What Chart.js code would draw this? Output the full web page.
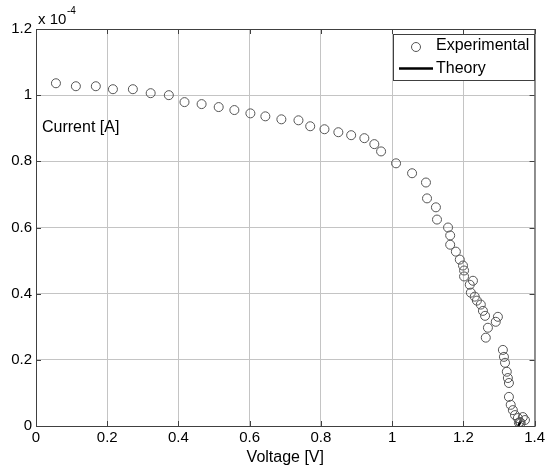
<!DOCTYPE html>
<html>
<head>
<meta charset="utf-8">
<script src="https://cdn.jsdelivr.net/npm/chart.js@4.4.1/dist/chart.umd.min.js"></script>
<style>
  html, body { margin: 0; padding: 0; background: #fff; }
  #wrap { position: relative; width: 548px; height: 469px; }
</style>
</head>
<body>
<div id="wrap"><canvas id="ivChart" width="548" height="469"></canvas></div>
<script>
// I-V curve, experimental points (current shown in units of 1e-4 A)
const voltage = [
  0.056, 0.112, 0.168, 0.216, 0.272, 0.322, 0.373, 0.417, 0.465, 0.513,
  0.557, 0.602, 0.644, 0.689, 0.737, 0.770, 0.810, 0.849, 0.885, 0.922,
  0.950, 0.969, 1.011, 1.056, 1.095, 1.098, 1.123, 1.126, 1.157, 1.163,
  1.163, 1.179, 1.190, 1.199, 1.202, 1.202, 1.227, 1.218, 1.221, 1.232,
  1.238, 1.249, 1.255, 1.261, 1.269, 1.263, 1.297, 1.291, 1.311, 1.314,
  1.317, 1.322, 1.325, 1.328, 1.328, 1.333, 1.339, 1.345, 1.353, 1.367,
  1.373, 1.359, 1.361, 1.356
];
const current = [
  1.036, 1.027, 1.027, 1.018, 1.018, 1.006, 1.000, 0.979, 0.973, 0.964,
  0.955, 0.945, 0.936, 0.927, 0.924, 0.906, 0.897, 0.888, 0.879, 0.870,
  0.852, 0.830, 0.794, 0.764, 0.736, 0.688, 0.661, 0.624, 0.600, 0.576,
  0.548, 0.527, 0.503, 0.485, 0.470, 0.452, 0.439, 0.427, 0.403, 0.391,
  0.379, 0.367, 0.348, 0.333, 0.297, 0.267, 0.330, 0.315, 0.230, 0.209,
  0.191, 0.164, 0.145, 0.130, 0.088, 0.064, 0.048, 0.033, 0.024, 0.027,
  0.018, 0.012, 0.009, 0.010
];
// theory curve: only a short stub visible near the open-circuit voltage
const theoryV = [1.354, 1.358, 1.362];
const theoryI = [0.000, 0.008, 0.016];

const xTicks = [0, 0.2, 0.4, 0.6, 0.8, 1, 1.2, 1.4];
const yTicks = [0, 0.2, 0.4, 0.6, 0.8, 1, 1.2];

const FONT = 'Liberation Sans, Arial, sans-serif';

const expPoints = voltage.map((v, i) => ({ x: v, y: current[i] }));
const theoryPoints = theoryV.map((v, i) => ({ x: v, y: theoryI[i] }));

const decor = {
  id: 'decor',
  afterDraw(chart) {
    const { ctx, chartArea: a } = chart;
    ctx.save();
    // box round the axes
    ctx.strokeStyle = '#404040';
    ctx.lineWidth = 1;
    ctx.strokeRect(a.left + 0.5, a.top + 0.5, a.right - a.left, a.bottom - a.top);
    // small inward ticks, matlab style
    const xs = chart.scales.x, ys = chart.scales.y;
    ctx.beginPath();
    xTicks.forEach(t => {
      const px = Math.round(xs.getPixelForValue(t)) + 0.5;
      ctx.moveTo(px, a.bottom); ctx.lineTo(px, a.bottom - 5);
      ctx.moveTo(px, a.top); ctx.lineTo(px, a.top + 5);
    });
    yTicks.forEach(t => {
      const py = Math.round(ys.getPixelForValue(t)) + 0.5;
      ctx.moveTo(a.left, py); ctx.lineTo(a.left + 5, py);
      ctx.moveTo(a.right, py); ctx.lineTo(a.right - 5, py);
    });
    ctx.stroke();

    // exponent label
    ctx.fillStyle = '#000';
    ctx.textBaseline = 'alphabetic';
    ctx.textAlign = 'left';
    ctx.font = '15px ' + FONT;
    ctx.fillText('x 10', 38, 24);
    ctx.font = '10px ' + FONT;
    ctx.fillText('-4', 67, 14);

    // y label inside the plot
    ctx.font = '16px ' + FONT;
    ctx.textBaseline = 'middle';
    ctx.fillText('Current [A]', 42, 128);

    // legend
    const lx = 393, ly = 34, lw = 141, lh = 46;
    ctx.fillStyle = '#fff';
    ctx.fillRect(lx, ly, lw, lh);
    ctx.strokeStyle = '#404040';
    ctx.strokeRect(lx + 0.5, ly + 0.5, lw, lh);
    ctx.beginPath();
    ctx.arc(416, 47, 4.5, 0, Math.PI * 2);
    ctx.strokeStyle = '#555';
    ctx.stroke();
    ctx.beginPath();
    ctx.moveTo(399, 68.5); ctx.lineTo(433, 68.5);
    ctx.strokeStyle = '#000';
    ctx.lineWidth = 2.5;
    ctx.stroke();
    ctx.fillStyle = '#000';
    ctx.fillText('Experimental', 436, 46);
    ctx.fillText('Theory', 436, 69);
    ctx.restore();
  }
};

new Chart(document.getElementById('ivChart'), {
  type: 'scatter',
  data: {
    datasets: [
      {
        label: 'Experimental',
        data: expPoints,
        showLine: false,
        pointStyle: 'circle',
        pointRadius: 4.5,
        pointBorderWidth: 1,
        pointBorderColor: '#555',
        pointBackgroundColor: 'rgba(0,0,0,0)'
      },
      {
        label: 'Theory',
        data: theoryPoints,
        showLine: true,
        borderColor: '#000',
        borderWidth: 2.5,
        pointRadius: 0
      }
    ]
  },
  options: {
    responsive: false,
    animation: false,
    layout: { padding: { top: 29, right: 10, left: 0, bottom: 0 } },
    plugins: {
      legend: { display: false },
      tooltip: { enabled: false }
    },
    scales: {
      x: {
        type: 'linear',
        min: 0,
        max: 1.4,
        afterBuildTicks: s => { s.ticks = xTicks.map(v => ({ value: v })); },
        afterFit: s => { s.height = 43; },
        grid: { color: '#c4c4c4', drawTicks: false },
        border: { display: false },
        ticks: {
          color: '#000',
          font: { family: FONT, size: 15 },
          padding: 3,
          maxRotation: 0,
          callback: v => String(v)
        },
        title: {
          display: true,
          text: 'Voltage [V]',
          color: '#000',
          font: { family: FONT, size: 16 },
          padding: { top: 0, bottom: 2 }
        }
      },
      y: {
        type: 'linear',
        min: 0,
        max: 1.2,
        afterBuildTicks: s => { s.ticks = yTicks.map(v => ({ value: v })); },
        afterFit: s => { s.width = 36; },
        grid: { color: '#c4c4c4', drawTicks: false },
        border: { display: false },
        ticks: {
          color: '#000',
          font: { family: FONT, size: 15 },
          padding: 4,
          callback: v => String(v)
        }
      }
    }
  },
  plugins: [decor]
});
</script>
</body>
</html>
